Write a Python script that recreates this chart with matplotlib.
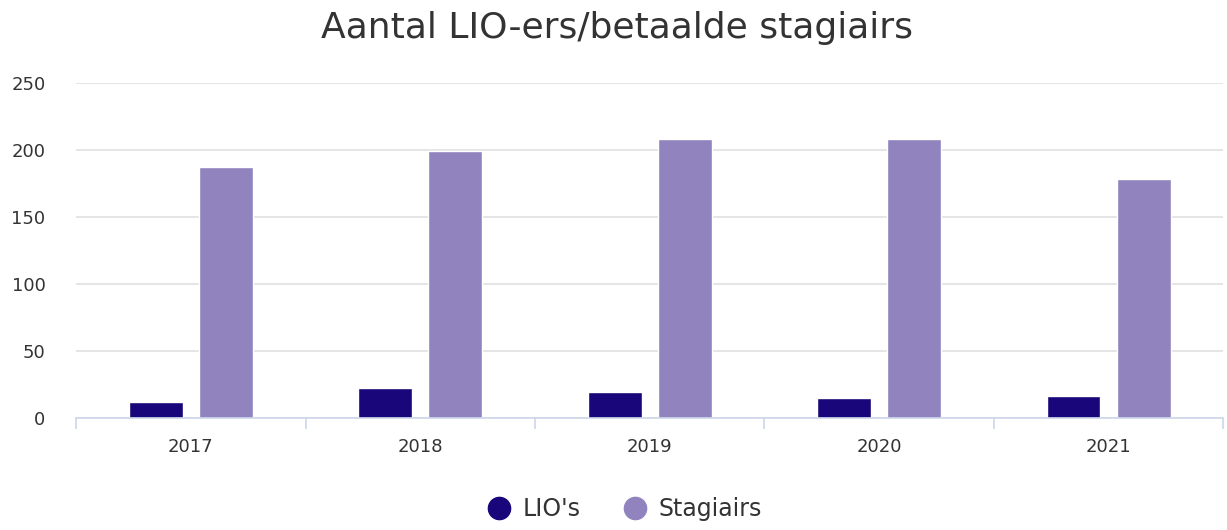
import matplotlib
matplotlib.use("Agg")
import matplotlib.pyplot as plt
from matplotlib.lines import Line2D
import numpy as np

years = ["2017", "2018", "2019", "2020", "2021"]
lio = [12, 22, 19, 15, 16]
stagiairs = [187, 199, 208, 208, 178]

LIO_COLOR = "#18067a"
STAG_COLOR = "#9184be"
AXIS_COLOR = "#ccd6eb"
TEXT_COLOR = "#333333"

plt.rcParams["font.family"] = "DejaVu Sans"

fig = plt.figure(figsize=(12.27, 5.30), dpi=100)
ax = fig.add_axes([0.062, 0.212, 0.935, 0.632])

x = np.arange(len(years))
w = 0.235
ax.bar(x - 0.153, lio, w, color=LIO_COLOR, edgecolor="white", linewidth=1, zorder=3)
ax.bar(x + 0.153, stagiairs, w, color=STAG_COLOR, edgecolor="white", linewidth=1, zorder=3)

ax.set_xlim(-0.5, len(years) - 0.5)
ax.set_ylim(0, 250)
ax.set_yticks([0, 50, 100, 150, 200, 250])
ax.yaxis.grid(True, color="#e3e3e3", linewidth=1.3, zorder=0)

# category labels in the middle, tick marks on the boundaries
ax.set_xticks(x)
ax.set_xticklabels(years)
ax.set_xticks(np.arange(-0.5, len(years)), minor=True)
ax.tick_params(axis="x", which="major", length=0, pad=15, labelsize=13, labelcolor=TEXT_COLOR)
ax.tick_params(axis="x", which="minor", length=8, width=1.2, color=AXIS_COLOR)
ax.tick_params(axis="y", length=0, pad=22, labelsize=13, labelcolor=TEXT_COLOR)

for side in ["top", "right", "left"]:
    ax.spines[side].set_visible(False)
ax.spines["bottom"].set_color(AXIS_COLOR)
ax.spines["bottom"].set_linewidth(1.2)
ax.spines["bottom"].set_zorder(4)

fig.text(0.503, 0.948, "Aantal LIO-ers/betaalde stagiairs", ha="center", va="center",
         fontsize=26, color=TEXT_COLOR)

handles = [
    Line2D([], [], marker="o", linestyle="none", markersize=16, color=LIO_COLOR),
    Line2D([], [], marker="o", linestyle="none", markersize=16, color=STAG_COLOR),
]
fig.legend(handles, ["LIO's", "Stagiairs"], loc="center", bbox_to_anchor=(0.509, 0.04),
           ncol=2, frameon=False, fontsize=17, labelcolor=TEXT_COLOR,
           handletextpad=0.5, columnspacing=1.8, handlelength=1.0)

fig.savefig("out.png", dpi=100, facecolor="white")
